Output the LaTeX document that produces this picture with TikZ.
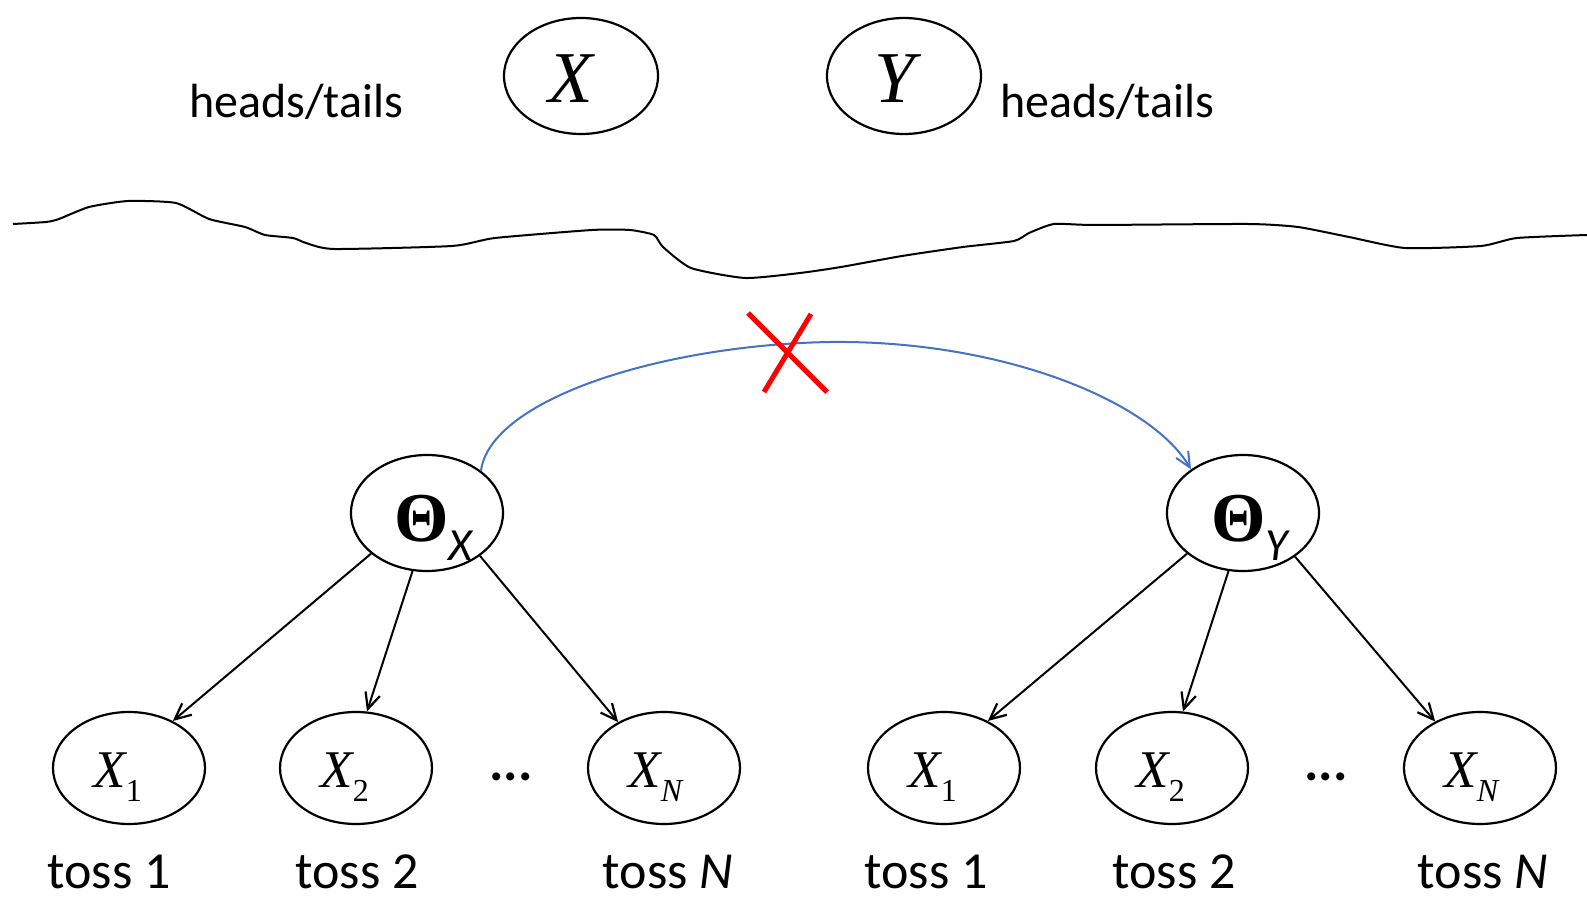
\documentclass[tikz,border=0pt]{standalone}
\usepackage{fontspec}
\setmainfont{Carlito}
\newfontfamily\tms{Liberation Serif}
\usetikzlibrary{shapes.geometric,arrows.meta}

\begin{document}
\begin{tikzpicture}[x=0.5pt,y=-0.5pt,
  varnode/.style={ellipse,draw,line width=1.1pt,inner sep=0pt,minimum width=77pt,minimum height=58pt},
  parnode/.style={ellipse,draw,line width=1.1pt,inner sep=0pt,minimum width=76pt,minimum height=58pt},
  obsnode/.style={ellipse,draw,line width=1.1pt,inner sep=0pt,minimum width=76pt,minimum height=56pt},
  txt/.style={inner sep=0pt,anchor=base,font=\fontsize{24pt}{28pt}\selectfont},
  tosslbl/.style={inner sep=0pt,anchor=base,font=\fontsize{26pt}{30pt}\selectfont},
  bigvar/.style={inner sep=0pt,anchor=base,font=\fontsize{36.5pt}{40pt}\selectfont\tms\itshape},
  obsvar/.style={inner sep=0pt,anchor=base west,font=\fontsize{26.5pt}{30pt}\selectfont\tms\itshape},
  parvar/.style={inner sep=0pt,anchor=base west,font=\fontsize{35pt}{40pt}\selectfont\tms\bfseries},
  dotslbl/.style={inner sep=0pt,anchor=base,font=\fontsize{27pt}{30pt}\selectfont\bfseries},
  edge/.style={line width=1pt,-{Straight Barb[length=8pt,width=7.5pt,line width=1.1pt]}},
  dep/.style={line width=1pt,draw={rgb,255:red,68;green,114;blue,196},
    -{Straight Barb[length=7.5pt,width=7pt,line width=1pt]}},
  cross/.style={line width=2.5pt,draw=red}
]
\useasboundingbox (0,0) rectangle (1587,898);

% coin variables
\node[varnode] (vx) at (581,76) {};
\node[varnode] (vy) at (904,76) {};
\node[bigvar] (vxl) at ([shift={(-10,27)}]vx.center) {X};
\node[bigvar] (vyl) at ([shift={(-9,27)}]vy.center) {Y};
\node[txt] (htl) at (296,118) {heads/tails};
\node[txt] (htr) at (1107,118) {heads/tails};

% separating boundary
\draw[line width=1pt,line join=round] plot[smooth,tension=0.35] coordinates {
  (13,224) (46,222) (59,219) (89,207) (128,201) (176,203) (209,219) (245,227)
  (265,235) (293,238) (306,243) (334,249) (452,246) (495,238) (592,230)
  (630,230) (654,235) (663,247) (691,268) (745,278) (800,273) (841,267)
  (902,256) (963,247) (1014,241) (1029,233) (1054,224) (1095,225) (1248,224)
  (1298,227) (1349,237) (1405,248) (1481,246) (1517,238) (1587,235)};

% parameters
\node[parnode] (thx) at (427,513) {};
\node[parnode] (thy) at (1243,513) {};
\node[parvar] (thxl) at ([shift={(-33,29)}]thx.center)
  {\char"0398\raisebox{-9.5pt}{\fontsize{23pt}{27pt}\selectfont\rmfamily\mdseries\itshape X}};
\node[parvar] (thyl) at ([shift={(-32,29)}]thy.center)
  {\char"0398\raisebox{-9.5pt}{\fontsize{23pt}{27pt}\selectfont\rmfamily\mdseries\itshape Y}};

% tosses
\foreach \nm/\cx/\sub/\tx/\lab in {x1/129/1/109/toss 1, x2/356/2/357/toss 2, xn/664/N/668/toss \textit{N},
                              y1/944/1/926/toss 1, y2/1172/2/1174/toss 2, yn/1480/N/1483/toss \textit{N}}{
  \node[obsnode] (\nm) at (\cx,768) {};
  \node[obsvar] (\nm l) at ([shift={(-36,20)}]\nm.center)
    {X\raisebox{-7pt}{\fontsize{16pt}{18pt}\selectfont\if N\sub\itshape\else\upshape\fi\sub}};
  \node[tosslbl] (\nm t) at (\tx,888) {\lab};
}
\node[dotslbl] (dl) at (511,781) {...};
\node[dotslbl] (dr) at (1326,781) {...};

% dependencies
\draw[edge] (thx.216) -- (x1.47);
\draw[edge] (thx.256) -- (x2.79);
\draw[edge] (thx.321) -- (xn.135);
\draw[edge] (thy.216) -- (y1.47);
\draw[edge] (thy.256) -- (y2.79);
\draw[edge] (thy.320) -- (yn.134);

% ruled-out link between the two parameters
\draw[dep] (thx.38) .. controls (490,400) and (660,345) .. (830,342)
  .. controls (1000,340) and (1150,400) .. (thy.140);
\coordinate (ca) at (748,313);
\coordinate (cb) at (827,392);
\coordinate (cc) at (811,314);
\coordinate (cd) at (764,392);
\draw[cross] (ca) -- (cb);
\draw[cross] (cc) -- (cd);
\end{tikzpicture}
\end{document}
